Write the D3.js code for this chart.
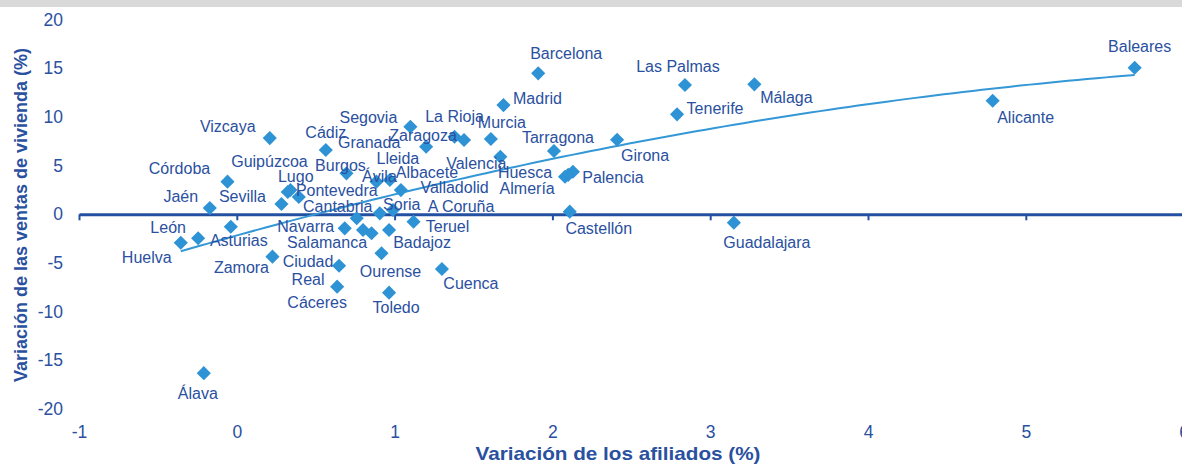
<!DOCTYPE html>
<html>
<head>
<meta charset="utf-8">
<script src="https://cdn.jsdelivr.net/npm/d3@7"></script>
<style>
  html, body { margin: 0; padding: 0; background: #ffffff; }
  svg { display: block; font-family: "Liberation Sans", Arial, sans-serif; }
</style>
</head>
<body>
<svg id="chart" width="1182" height="464"></svg>
<script>
// ---------------- data ----------------
const provinces = [
  "Baleares","Alicante","Málaga","Las Palmas","Tenerife","Girona","Guadalajara","Barcelona","Madrid","Tarragona",
  "Palencia","Huesca","Almería","Castellón","Segovia","Granada","La Rioja","Zaragoza","Murcia","Valencia",
  "Ávila","Lleida","Albacete","Valladolid","Cantabria","Soria","A Coruña","Teruel","Navarra","Salamanca",
  "Badajoz","Ourense","Cuenca","Toledo","Cáceres","Ciudad Real","Zamora","Burgos","Cádiz","Vizcaya",
  "Lugo","Guipúzcoa","Pontevedra","Sevilla","Córdoba","Jaén","Asturias","León","Huelva","Álava"
];
// Variación de los afiliados (%)
const afiliados = [
  5.69, 4.79, 3.28, 2.84, 2.79, 2.41, 3.15, 1.91, 1.69, 2.01,
  2.13, 2.08, 2.10, 2.11, 1.10, 1.20, 1.38, 1.44, 1.61, 1.67,
  0.885, 0.97, 1.04, 0.854, 0.76, 0.906, 0.99, 1.12, 0.684, 0.80,
  0.965, 0.917, 1.30, 0.965, 0.636, 0.648, 0.226, 0.695, 0.564, 0.209,
  0.323, 0.34, 0.393, 0.283, -0.059, -0.171, -0.038, -0.245, -0.355, -0.209
];
// Variación de las ventas de vivienda (%)
const ventas = [
  15.05, 11.66, 13.35, 13.28, 10.27, 7.66, -0.86, 14.48, 11.22, 6.50,
  4.37, 3.86, 4.05, 0.27, 8.99, 6.94, 7.97, 7.63, 7.73, 5.91,
  3.35, 3.52, 2.49, -1.95, -0.41, 0.10, 0.44, -0.76, -1.44, -1.61,
  -1.61, -4.00, -5.62, -8.05, -7.43, -5.28, -4.35, 4.21, 6.60, 7.83,
  2.29, 2.50, 1.78, 1.06, 3.35, 0.65, -1.28, -2.46, -2.92, -16.32
];
const xTicks = [-1, 0, 1, 2, 3, 4, 5, 6];
const yTicks = [-20, -15, -10, -5, 0, 5, 10, 15, 20];
const xTitle = "Variación de los afiliados (%)";
const yTitle = "Variación de las ventas de vivienda (%)";

// ---------------- layout (label placement, pixels relative to marker) ----------------
const labelOffsets = {
  "Baleares":[5,-21], "Alicante":[33,17], "Málaga":[32,13], "Las Palmas":[-7,-19], "Tenerife":[38,-6],
  "Girona":[28,16], "Guadalajara":[33,20], "Barcelona":[28,-20], "Madrid":[34,-7], "Tarragona":[4,-14],
  "Palencia":[40,6], "Huesca":[-40,-4], "Almería":[-41,14], "Castellón":[29,17], "Segovia":[-42,-9],
  "Granada":[-57,-4], "La Rioja":[0,-20], "Zaragoza":[-41,-5], "Murcia":[11,-17], "Valencia":[-24,7],
  "Ávila":[3,-5], "Lleida":[8,-22], "Albacete":[26,-18], "Valladolid":[83,-46], "Cantabria":[-19,-12],
  "Soria":[22,-9], "A Coruña":[68,-4], "Teruel":[34,5], "Navarra":[-39,-2], "Salamanca":[-36,13],
  "Badajoz":[33,13], "Ourense":[9,18], "Cuenca":[29,14], "Toledo":[7,15], "Cáceres":[-20,16],
  "Ciudad Real":[-31,4], "Zamora":[-31,11], "Burgos":[-6,-8], "Cádiz":[0,-18], "Vizcaya":[-42,-12],
  "Lugo":[8,-16], "Guipúzcoa":[-21,-28], "Pontevedra":[38,-6], "Sevilla":[-39,-7], "Córdoba":[-48,-13],
  "Jaén":[-29,-11], "Asturias":[8,14], "León":[-30,-11], "Huelva":[-34,15], "Álava":[-6,20]
};

const W = 1182, H = 464;
const textColor = "#2a50a0";
const markerColor = "#2e93d5";
const trendColor = "#3497d6";

const svg = d3.select("#chart");

// grey band at top
svg.append("rect").attr("x", 0).attr("y", 0).attr("width", W).attr("height", 7).attr("fill", "#d9d9d9");

const x = d3.scaleLinear().domain([-1, 6]).range([79, 1183.6]);
const y = d3.scaleLinear().domain([-20, 20]).range([409, 19.6]);
const fmt = d => String(d);

// y axis labels (no line)
const yAxis = svg.append("g").attr("transform", "translate(63,0)")
  .call(d3.axisLeft(y).tickValues(yTicks).tickSize(0).tickPadding(0).tickFormat(fmt));
yAxis.select(".domain").remove();
yAxis.selectAll("text").attr("fill", textColor).attr("font-size", 17.5)
  .attr("font-family", "Liberation Sans, Arial, sans-serif");

// x axis line at y = 0 with ticks downward
const xAxisLine = svg.append("g").attr("transform", `translate(0,${y(0)})`)
  .call(d3.axisBottom(x).tickValues(xTicks).tickSize(6).tickSizeOuter(0).tickFormat(""));
xAxisLine.select(".domain").attr("stroke", "#2450a2").attr("stroke-width", 3);
xAxisLine.selectAll(".tick line").attr("stroke", "#2450a2").attr("stroke-width", 2);

// x tick labels at bottom
const xAxisLab = svg.append("g").attr("transform", "translate(0,426)")
  .call(d3.axisBottom(x).tickValues(xTicks).tickSize(0).tickPadding(0).tickFormat(fmt));
xAxisLab.select(".domain").remove();
xAxisLab.selectAll("text").attr("fill", textColor).attr("font-size", 17.5)
  .attr("font-family", "Liberation Sans, Arial, sans-serif");

// axis titles
svg.append("text").attr("x", 618).attr("y", 460).attr("text-anchor", "middle")
  .attr("font-size", 18.5).attr("font-weight", "bold").attr("fill", textColor)
  .attr("textLength", 285).attr("lengthAdjust", "spacingAndGlyphs").text(xTitle);
svg.append("text").attr("transform", "translate(27,215) rotate(-90)").attr("text-anchor", "middle")
  .attr("font-size", 18).attr("font-weight", "bold").attr("fill", textColor).text(yTitle);

// ---------------- polynomial (order 2) trend line, least squares ----------------
const n = afiliados.length;
let S = [0,0,0,0,0], T = [0,0,0];
for (let i = 0; i < n; i++) {
  const xi = afiliados[i], yi = ventas[i];
  for (let k = 0; k < 5; k++) S[k] += Math.pow(xi, k);
  for (let k = 0; k < 3; k++) T[k] += yi * Math.pow(xi, k);
}
function solve3(A, b) {
  const M = A.map((r, i) => r.concat([b[i]]));
  for (let c = 0; c < 3; c++) {
    let p = c;
    for (let r = c + 1; r < 3; r++) if (Math.abs(M[r][c]) > Math.abs(M[p][c])) p = r;
    [M[c], M[p]] = [M[p], M[c]];
    for (let r = 0; r < 3; r++) {
      if (r === c) continue;
      const f = M[r][c] / M[c][c];
      for (let k = c; k < 4; k++) M[r][k] -= f * M[c][k];
    }
  }
  return M.map((r, i) => r[3] / r[i]);
}
const coef = solve3([[S[0],S[1],S[2]],[S[1],S[2],S[3]],[S[2],S[3],S[4]]], T);
const xmin = d3.min(afiliados), xmax = d3.max(afiliados);
const trendPts = d3.range(0, 101).map(i => {
  const xv = xmin + (xmax - xmin) * i / 100;
  return [xv, coef[0] + coef[1] * xv + coef[2] * xv * xv];
});
svg.append("path").datum(trendPts)
  .attr("d", d3.line().x(d => x(d[0])).y(d => y(d[1])))
  .attr("fill", "none").attr("stroke", trendColor).attr("stroke-width", 2);

// ---------------- markers ----------------
const pts = provinces.map((p, i) => ({ name: p, x: afiliados[i], y: ventas[i] }));
const diamond = d3.symbol().type(d3.symbolSquare).size(100);
svg.append("g").selectAll("path").data(pts).join("path")
  .attr("d", diamond)
  .attr("transform", d => `translate(${x(d.x)},${y(d.y)}) rotate(45)`)
  .attr("fill", markerColor);

// ---------------- labels ----------------
const lab = svg.append("g").attr("font-size", 16).attr("fill", textColor);
pts.forEach(d => {
  const off = labelOffsets[d.name] || [0, -18];
  const cx = x(d.x) + off[0], cy = y(d.y) + off[1];
  const t = lab.append("text").attr("text-anchor", "middle").attr("dominant-baseline", "central");
  if (d.name === "Ciudad Real") {
    t.append("tspan").attr("x", cx).attr("y", cy - 8.5).text("Ciudad");
    t.append("tspan").attr("x", cx).attr("y", cy + 9).text("Real");
  } else {
    t.attr("x", cx).attr("y", cy).text(d.name);
  }
});
</script>
</body>
</html>
